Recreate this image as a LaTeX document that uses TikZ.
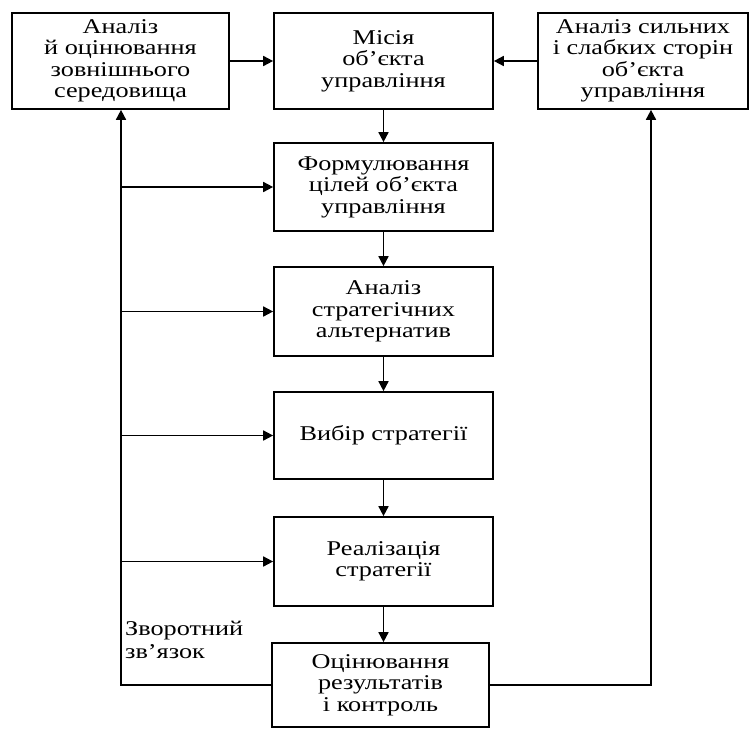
\documentclass[tikz,border=0pt]{standalone}
\usepackage{fontspec}
\setmainfont{Liberation Serif}[FakeStretch=1.25]
\usetikzlibrary{arrows.meta}
\begin{document}
\begin{tikzpicture}[x=1pt,y=-1pt,
  box/.style={draw=black,line width=1.7pt,align=center,inner sep=0pt,
    font=\fontsize{21}{21.5}\selectfont,minimum width=219pt},
  conn/.style={line width=1.7pt,draw=black},
  arr/.style={conn,-{Triangle[length=10pt,width=10pt]}},
  lbl/.style={align=left,font=\fontsize{21}{23}\selectfont,inner sep=0pt,anchor=north west}]
\useasboundingbox (0,0) rectangle (752,728);
\node[box,minimum width=217pt,minimum height=96pt] (L) at (120.5,61) {Аналіз\\й оцінювання\\зовнішнього\\середовища};
\node[box,minimum height=96pt] (M) at (383.5,61) {Місія\\об’єкта\\управління};
\node[box,minimum width=210pt,minimum height=96pt] (R) at (643,61) {Аналіз сильних\\і слабких сторін\\об’єкта\\управління};
\node[box,minimum height=88pt] (F) at (383.5,187) {Формулювання\\цілей об’єкта\\управління};
\node[box,minimum height=89pt] (A) at (383.5,311.5) {Аналіз\\стратегічних\\альтернатив};
\node[box,minimum height=87pt] (V) at (383.5,435.5) {Вибір стратегії};
\node[box,minimum height=89pt] (Re) at (383.5,561.5) {Реалізація\\стратегії};
\node[box,minimum width=217pt,minimum height=84pt] (O) at (380.5,685) {Оцінювання\\результатів\\і контроль};
\node[lbl] (fb) at (125,621) {Зворотний\\зв’язок};
% top arrows
\draw[arr] (L.east) -- (M.west);
\draw[arr] (R.west) -- (M.east);
% vertical chain
\draw[arr] (M.south) -- (F.north);
\draw[arr] (F.south) -- (A.north);
\draw[arr] (A.south) -- (V.north);
\draw[arr] (V.south) -- (Re.north);
\draw[arr] (Re.south) -- (Re.south |- O.north);
% feedback lines
\coordinate (lb) at (121,685);
\coordinate (rb) at (651,685);
\draw[arr] (O.west) -- (lb) -- (lb |- L.south);
\draw[arr] (O.east) -- (rb) -- (rb |- R.south);
\coordinate (b1) at (121,187);
\coordinate (b2) at (121,311.5);
\coordinate (b3) at (121,435.5);
\coordinate (b4) at (121,561.5);
\draw[arr] (b1) -- (F.west);
\draw[arr] (b2) -- (A.west);
\draw[arr] (b3) -- (V.west);
\draw[arr] (b4) -- (Re.west);
\end{tikzpicture}
\end{document}
